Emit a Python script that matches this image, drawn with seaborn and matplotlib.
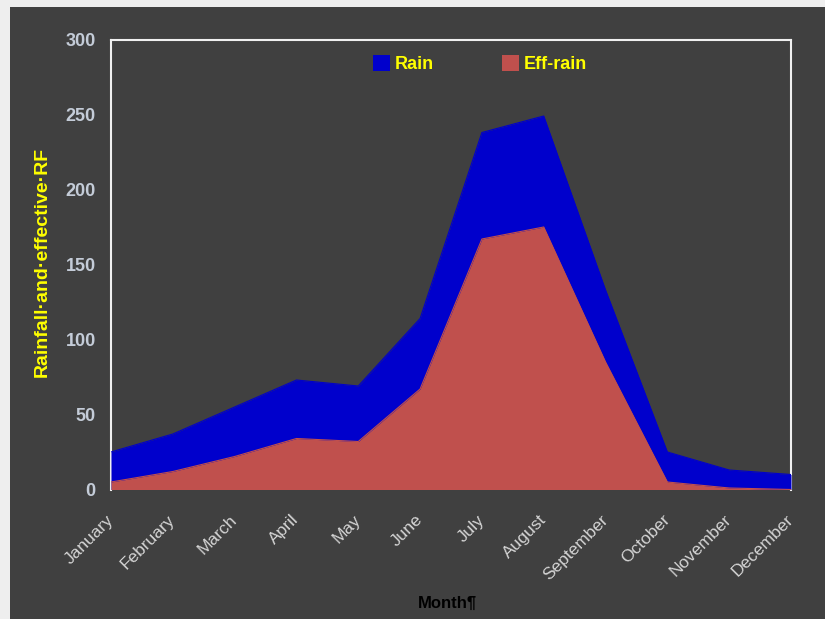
import matplotlib
matplotlib.use("Agg")
import matplotlib.pyplot as plt
from matplotlib.patches import Rectangle, Patch
import seaborn as sns
import pandas as pd

# Monthly rainfall and effective rainfall (mm)
months = ["January", "February", "March", "April", "May", "June", "July",
          "August", "September", "October", "November", "December"]
rain = [25, 37, 55, 73, 69, 114, 238, 249, 133, 25, 13, 10]
eff_rain = [5, 12, 22, 34, 32, 67, 167, 175, 85, 5, 1, 0]
y_ticks = [0, 50, 100, 150, 200, 250, 300]

BG = "#404040"
BLUE = "#0000CC"
RED = "#C0504D"
YELLOW = "#FFFF00"

sns.set_style("dark")
plt.rcParams["font.family"] = ["Liberation Sans", "DejaVu Sans"]

df = pd.DataFrame({"month": months, "Rain": rain, "Eff-rain": eff_rain})
df["pos"] = range(len(months))

fig = plt.figure(figsize=(8.25, 6.19), dpi=100, facecolor="#eeeeee")
# dark chart panel
fig.patches.append(Rectangle((10 / 825, 0), 1, 1 - 7 / 619, transform=fig.transFigure,
                             facecolor=BG, edgecolor="none", zorder=-10))

ax = fig.add_axes([111 / 825, 1 - 489.5 / 619, 680 / 825, 450 / 619])
ax.set_facecolor(BG)
ax.patch.set_alpha(0)

# filled areas (rain behind effective rain)
ax.fill_between(df["pos"], 0, df["Rain"], color=BLUE, linewidth=0, zorder=3)
ax.fill_between(df["pos"], 0, df["Eff-rain"], color=RED, linewidth=0, zorder=4)
sns.lineplot(data=df, x="pos", y="Rain", color=BLUE, linewidth=0.8, ax=ax, zorder=3)
sns.lineplot(data=df, x="pos", y="Eff-rain", color=RED, linewidth=0.8, ax=ax, zorder=4)

ax.set_xlim(0, len(months) - 1)
ax.set_ylim(0, 300)
ax.set_yticks(y_ticks)
ax.set_yticklabels([str(v) for v in y_ticks], fontsize=13, fontweight="bold",
                   color="#c4ccd8")
ax.set_xticks(df["pos"])
ax.set_xticklabels(months, rotation=45, ha="right", va="center",
                   rotation_mode="anchor", fontsize=12.5, color="#d4d4d4")
ax.tick_params(axis="x", length=0, pad=20)
ax.tick_params(axis="y", length=0, pad=11)
ax.grid(False)

for side in ("left", "top", "right"):
    ax.spines[side].set_visible(True)
    ax.spines[side].set_color("#f0f0f0")
    ax.spines[side].set_linewidth(1.5)
    ax.spines[side].set_zorder(1)
ax.spines["bottom"].set_visible(False)

ax.set_xlabel("")
ax.set_ylabel("")
fig.text(42 / 825, 1 - 262 / 619, "Rainfall·and·effective·RF", rotation=90,
         ha="center", va="center", fontsize=14, fontweight="bold", color=YELLOW)
fig.text(447 / 825, 1 - 603 / 619, "Month¶", ha="center", va="center",
         fontsize=12, fontweight="bold", color="black")

handles = [Patch(facecolor=BLUE, edgecolor="none", label="Rain"),
           Patch(facecolor=RED, edgecolor="none", label="Eff-rain")]
leg = ax.legend(handles=handles, loc="center", ncol=2, frameon=False,
                bbox_to_anchor=(480 / 825, 1 - 64 / 619), bbox_transform=fig.transFigure,
                fontsize=13, handlelength=0.95, handleheight=0.95,
                handletextpad=0.25, columnspacing=3.8)
for t in leg.get_texts():
    t.set_color(YELLOW)
    t.set_fontweight("bold")

fig.savefig("out.png", dpi=100, facecolor=fig.get_facecolor())
